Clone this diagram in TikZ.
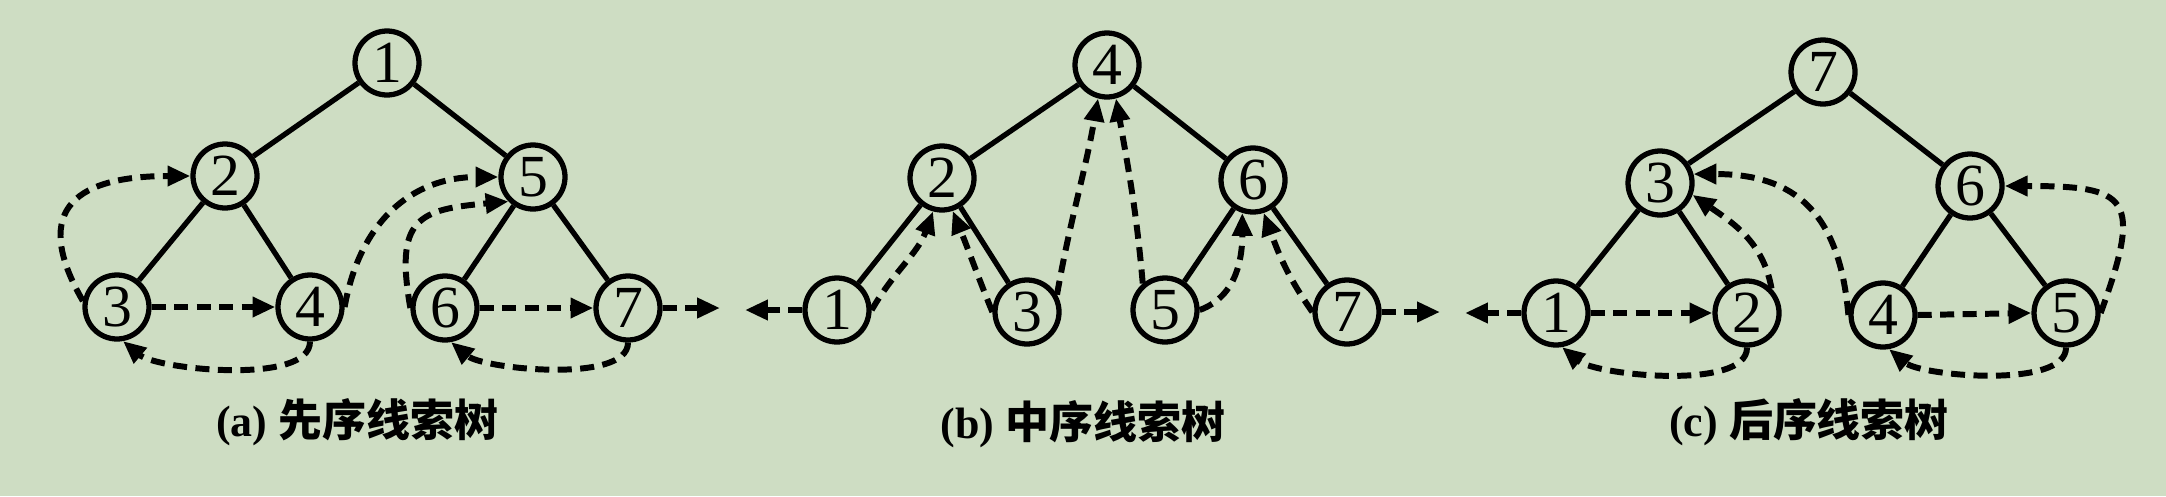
\documentclass[tikz,border=0pt]{standalone}
\usepackage{fontspec}
\setmainfont{Liberation Serif}
\newfontfamily\cjk{Noto Sans CJK SC}
\usetikzlibrary{positioning, arrows.meta}
\usepackage{xcolor}
\definecolor{bgcol}{RGB}{206,221,195}

\begin{document}
\begin{tikzpicture}[
        vertex/.style={circle, draw, line width=1.5pt, minimum size=0.64cm, inner sep=0pt, font=\fontsize{17}{17}\selectfont},
        edge/.style={line width=1.5pt},
        thread/.style={-{Triangle[length=6.5pt, width=5.5pt]}, line width=1.7pt, dash pattern=on 4pt off 2.4pt},
        caption/.style={font=\fontsize{12.5}{13}\selectfont\bfseries}
    ]
        \path[fill=bgcol, use as bounding box] (0,0) rectangle (21.66,-4.96);

        % (a) Nodes
        \node (a1) at (3.87,-0.63) [vertex] {1};
        \node (a2) at (2.25,-1.76) [vertex] {2};
        \node (a5) at (5.33,-1.77) [vertex] {5};
        \node (a3) at (1.17,-3.07) [vertex] {3};
        \node (a4) at (3.10,-3.07) [vertex] {4};
        \node (a6) at (4.45,-3.08) [vertex] {6};
        \node (a7) at (6.28,-3.08) [vertex] {7};
        \coordinate (aR) at (7.20,-3.08);
        \node (capa) at (3.57,-4.22) [caption] {(a) {\cjk 先序线索树}};

        % (b) Nodes
        \node (b4) at (11.07,-0.65) [vertex] {4};
        \node (b2) at (9.42,-1.78) [vertex] {2};
        \node (b6) at (12.53,-1.80) [vertex] {6};
        \node (b1) at (8.37,-3.10) [vertex] {1};
        \node (b3) at (10.27,-3.12) [vertex] {3};
        \node (b5) at (11.65,-3.10) [vertex] {5};
        \node (b7) at (13.47,-3.12) [vertex] {7};
        \coordinate (bL) at (7.45,-3.10);
        \coordinate (bR) at (14.40,-3.12);
        \node (capb) at (10.83,-4.24) [caption] {(b) {\cjk 中序线索树}};

        % (c) Nodes
        \node (c7) at (18.23,-0.72) [vertex] {7};
        \node (c3) at (16.60,-1.83) [vertex] {3};
        \node (c6) at (19.70,-1.86) [vertex] {6};
        \node (c1) at (15.56,-3.13) [vertex] {1};
        \node (c2) at (17.47,-3.13) [vertex] {2};
        \node (c4) at (18.83,-3.15) [vertex] {4};
        \node (c5) at (20.66,-3.13) [vertex] {5};
        \coordinate (cL) at (14.65,-3.13);
        \node (capc) at (18.09,-4.22) [caption] {(c) {\cjk 后序线索树}};

        % Tree edges
        \draw [edge] (a1) -- (a2);
        \draw [edge] (a1) -- (a5);
        \draw [edge] (a2) -- (a3);
        \draw [edge] (a2) -- (a4);
        \draw [edge] (a5) -- (a6);
        \draw [edge] (a5) -- (a7);
        \draw [edge] (b4) -- (b2);
        \draw [edge] (b4) -- (b6);
        \draw [edge] (b2) -- (b1);
        \draw [edge] (b2) -- (b3);
        \draw [edge] (b6) -- (b5);
        \draw [edge] (b6) -- (b7);
        \draw [edge] (c7) -- (c3);
        \draw [edge] (c7) -- (c6);
        \draw [edge] (c3) -- (c1);
        \draw [edge] (c3) -- (c2);
        \draw [edge] (c6) -- (c4);
        \draw [edge] (c6) -- (c5);

        % Threads (a)
        \draw [thread] (a3.170) to[out=120, in=180, looseness=1.7] (a2.west);
        \draw [thread] (a3.east) -- (a4.west);
        \draw [thread] (a4.south) to[out=-90, in=-40, looseness=0.6] (a3.-80);
        \draw [thread] (a4.east) to[out=80, in=180, looseness=1.1] (a5.west);
        \draw [thread] (a6.west) to[out=100, in=185, looseness=1.6] (a5.south west);
        \draw [thread] (a6.east) -- (a7.west);
        \draw [thread] (a7.south) to[out=-90, in=-40, looseness=0.6] (a6.-80);
        \draw [thread] (a7.east) -- (aR);

        % Threads (b)
        \draw [thread] (b1.west) -- (bL);
        \draw [thread] (b1.east) to[out=60, in=-110] (b2.-105);
        \draw [thread] (b3.west) to[out=112, in=-68] (b2.-72);
        \draw [thread] (b3.30) to[out=80, in=-100] (b4.-105);
        \draw [thread] (b5.130) to[out=95, in=-80] (b4.-75);
        \draw [thread] (b5.east) to[out=20, in=-90] (b6.-108);
        \draw [thread] (b7.west) to[out=125, in=-70] (b6.-72);
        \draw [thread] (b7.east) -- (bR);

        % Threads (c)
        \draw [thread] (c1.west) -- (cL);
        \draw [thread] (c1.east) -- (c2.west);
        \draw [thread] (c2.south) to[out=-90, in=-40, looseness=0.6] (c1.-80);
        \draw [thread] (c2.north east) to[out=100, in=-35] (c3.-20);
        \draw [thread] (c4.west) to[out=95, in=0, looseness=1.25] (c3.15);
        \draw [thread] (c4.east) -- (c5.west);
        \draw [thread] (c5.south) to[out=-90, in=-40, looseness=0.6] (c4.-80);
        \draw [thread] (c5.east) to[out=70, in=0, looseness=2] (c6.east);
    \end{tikzpicture}
\end{document}
